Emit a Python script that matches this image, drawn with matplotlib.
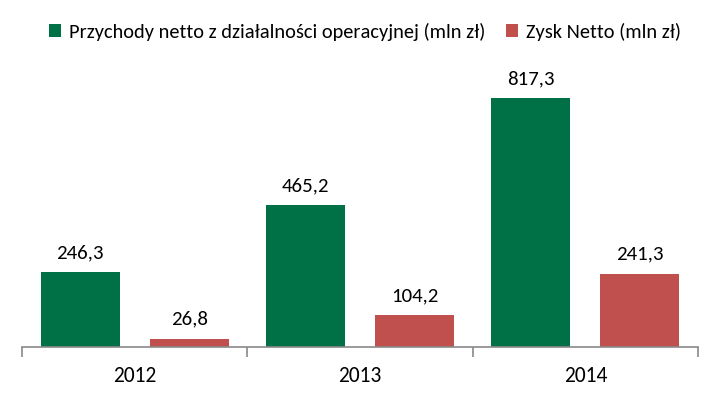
import matplotlib.pyplot as plt
import numpy as np

years = ['2012', '2013', '2014']
przychody = [246.3, 465.2, 817.3]
zysk = [26.8, 104.2, 241.3]
labels = ['Przychody netto z działalności operacyjnej (mln zł)', 'Zysk Netto (mln zł)']

plt.rcParams['font.family'] = ['Carlito', 'Liberation Sans Narrow', 'DejaVu Sans']

green = '#007047'
red = '#C0504D'

fig = plt.figure(figsize=(7.21, 3.99), dpi=100)
W, H = 721, 399
# plot area in pixels: x 22..698, baseline at y=347
ax = fig.add_axes([22 / W, (H - 347) / H, (698 - 22) / W, 304.3 / H])

x = np.arange(len(years))
w = 0.35
off = 0.242
b1 = ax.bar(x - off, przychody, w, color=green, label=labels[0])
b2 = ax.bar(x + off, zysk, w, color=red, label=labels[1])

for bars, vals in ((b1, przychody), (b2, zysk)):
    for b, v in zip(bars, vals):
        ax.annotate(f'{v:.1f}'.replace('.', ','), (b.get_x() + b.get_width() / 2, v),
                    xytext=(0, 14), textcoords='offset pixels', ha='center', va='baseline',
                    fontsize=15, color='#000000')

ax.set_xlim(-0.5, 2.5)
ax.set_ylim(0, 1000)
ax.set_yticks([])
for s in ('left', 'right', 'top'):
    ax.spines[s].set_visible(False)
ax.spines['bottom'].set_color('#898989')
ax.spines['bottom'].set_linewidth(1.2)

ax.set_xticks([-0.5, 0.5, 1.5, 2.5])
ax.set_xticklabels([])
ax.set_xticks(x, minor=True)
ax.set_xticklabels(years, minor=True, fontsize=15.5)
ax.tick_params(axis='x', which='major', length=7, color='#898989', width=1.2)
ax.tick_params(axis='x', which='minor', length=0, pad=14)

fig.legend(loc='center', bbox_to_anchor=(365 / W, 1 - 32 / H), ncol=2, frameon=False,
           fontsize=14.7, handlelength=0.6, handleheight=0.6, handletextpad=0.4,
           columnspacing=1.0)

fig.savefig('out.png', dpi=100)
